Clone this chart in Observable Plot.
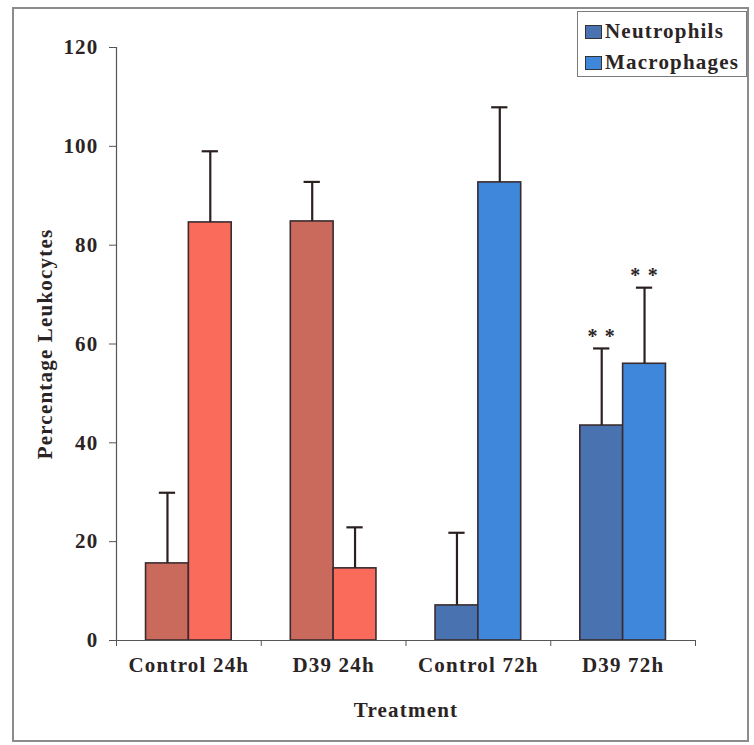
<!DOCTYPE html>
<html>
<head>
<meta charset="utf-8">
<script src="https://cdn.jsdelivr.net/npm/d3@7"></script>
<script src="https://cdn.jsdelivr.net/npm/@observablehq/plot@0.6"></script>
<style>
  html, body { margin: 0; padding: 0; background: #fff; }
  #wrap { position: relative; width: 754px; height: 745px; overflow: hidden; }
  #frame { position: absolute; left: 12px; top: 7px; width: 733px; height: 731px; border: 2px solid #8c8c8c; }
  #legend { position: absolute; left: 577px; top: 11px; width: 168px; height: 64px; border: 1.5px solid #7a7a7a; background: #fff;
    font-family: "Liberation Serif", serif; font-weight: bold; font-size: 21px; letter-spacing: 1.2px; color: #2b2424; }
  .item { position: absolute; left: 7px; display: flex; align-items: center; white-space: nowrap; }
  .sw { width: 15px; height: 12px; border: 1.2px solid #333; margin-right: 3px; }
  #chart { position: absolute; left: 0; top: 0; }
</style>
</head>
<body>
<div id="wrap">
  <div id="frame"></div>
  <div id="chart"></div>
  <div id="legend"></div>
</div>
<script>
// ---- data ----
const groups = ["Control 24h", "D39 24h", "Control 72h", "D39 72h"];
const times = ["24h", "24h", "72h", "72h"];
const cellTypes = ["Neutrophils", "Macrophages"];
const neutrophils = [15.6, 84.8, 7.1, 43.5];
const neutrophilErr = [14.3, 8.0, 14.7, 15.6];
const macrophages = [84.6, 14.6, 92.7, 56.0];
const macrophageErr = [14.4, 8.3, 15.2, 15.4];
const neutrophilSig = ["", "", "", "* *"];
const macrophageSig = ["", "", "", "* *"];
const yTicks = [0, 20, 40, 60, 80, 100, 120];

// ---- styles ----
const colorKeys = ["Neutrophils 24h", "Macrophages 24h", "Neutrophils 72h", "Macrophages 72h"];
const colorRange = ["#c96a5c", "#fa6b5c", "#4872b0", "#3e87da"];
const ink = "#2b2424";

// rows
const rows = [];
groups.forEach((g, i) => {
  rows.push({gi: i, group: g, type: "Neutrophils", key: "Neutrophils " + times[i], value: neutrophils[i], err: neutrophilErr[i], sig: neutrophilSig[i]});
  rows.push({gi: i, group: g, type: "Macrophages", key: "Macrophages " + times[i], value: macrophages[i], err: macrophageErr[i], sig: macrophageSig[i]});
});

// inner band layout within each group (group = 1 unit on x)
const inner = d3.scaleBand().domain(cellTypes).range([0, 1]).paddingInner(0).paddingOuter(0.69);
const bw = inner.bandwidth();
const left = d => d.gi + inner(d.type);
const center = d => d.gi + inner(d.type) + bw / 2;
const capHalf = bw * 0.19;

const chart = Plot.plot({
  width: 754,
  height: 745,
  marginLeft: 116,
  marginRight: 59,
  marginTop: 47,
  marginBottom: 105,
  style: {fontFamily: "Liberation Serif, serif", fontWeight: "bold", fontSize: "21px", letterSpacing: "1.2px", color: ink, background: "transparent"},
  x: {type: "linear", domain: [0, groups.length]},
  y: {domain: [0, 120]},
  color: {domain: colorKeys, range: colorRange},
  marks: [
    Plot.rectY(rows, {x1: left, x2: d => left(d) + bw, y: "value", fill: "key", stroke: "#3a2c2e", strokeWidth: 1.6}),
    Plot.ruleX(rows, {x: center, y1: "value", y2: d => d.value + d.err, stroke: "#2a2020", strokeWidth: 2.2}),
    Plot.ruleY(rows, {y: d => d.value + d.err, x1: d => center(d) - capHalf, x2: d => center(d) + capHalf, stroke: "#2a2020", strokeWidth: 2.2}),
    Plot.text(rows.filter(d => d.sig), {x: center, y: d => d.value + d.err, text: "sig", dy: -12, fill: ink, fontSize: 20}),
    Plot.ruleX([0], {stroke: "#555", strokeWidth: 1.2}),
    Plot.ruleY([0], {stroke: "#555", strokeWidth: 1.2}),
    Plot.axisY({ticks: yTicks, tickSize: 7, tickPadding: 11, stroke: "#555", fill: ink, label: "Percentage Leukocytes", labelAnchor: "center", labelOffset: 79, labelArrow: "none"}),
    Plot.axisX({ticks: d3.range(groups.length + 1), tickSize: 6, tickFormat: () => "", stroke: "#555", label: null}),
    Plot.axisX({ticks: groups.map((g, i) => i + 0.5), tickSize: 0, tickPadding: 17, tickFormat: v => groups[Math.floor(v)], fill: ink, label: "Treatment", labelAnchor: "center", labelOffset: 76, labelArrow: "none"})
  ]
});
document.getElementById("chart").appendChild(chart);

// legend
const legendColors = ["#4872b0", "#3e87da"];
const legendTops = [7, 38];
const legend = document.getElementById("legend");
cellTypes.forEach((t, i) => {
  const item = document.createElement("div");
  item.className = "item";
  item.style.top = legendTops[i] + "px";
  const sw = document.createElement("div");
  sw.className = "sw";
  sw.style.background = legendColors[i];
  const lab = document.createElement("span");
  lab.textContent = t;
  item.appendChild(sw);
  item.appendChild(lab);
  legend.appendChild(item);
});
</script>
</body>
</html>
